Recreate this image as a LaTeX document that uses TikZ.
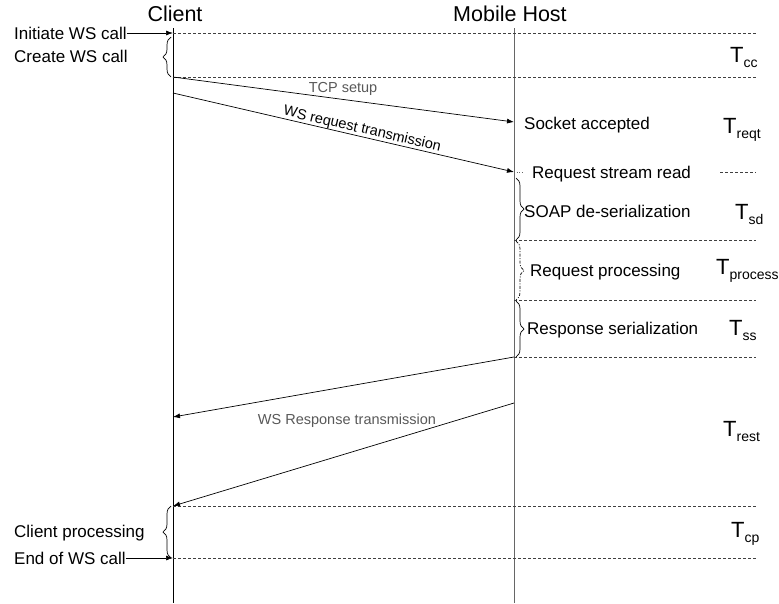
\documentclass[tikz,border=0pt]{standalone}
\usepackage{fontspec}
\setmainfont{Liberation Sans}
\usetikzlibrary{arrows.meta,decorations.pathreplacing}
\begin{document}
\begin{tikzpicture}[x=1pt,y=-1pt,
 lbl/.style={anchor=west,inner sep=0pt,text height=12.2pt,text depth=0pt,font=\fontsize{17}{17}\selectfont},
 ttl/.style={inner sep=0pt,text height=15.4pt,text depth=0pt,font=\fontsize{21.5}{21.5}\selectfont},
 glbl/.style={inner sep=0pt,text=black!65,text height=10.4pt,text depth=0pt,font=\fontsize{14.5}{14.5}\selectfont},
 tlbl/.style={anchor=base west,inner sep=0pt},
 life/.style={line width=0.8pt},
 msg/.style={line width=0.7pt,-{Latex[length=7pt,width=5pt]}},
 sep/.style={line width=0.7pt,black!75,dash pattern=on 3pt off 2pt},
 brc/.style={line width=0.7pt,decorate,decoration={brace,amplitude=8pt}},
]
\newcommand{\Tsub}[1]{{\fontsize{22}{22}\selectfont T}\raisebox{-5pt}{\fontsize{14}{14}\selectfont #1}}
\useasboundingbox[fill=white] (0,0) rectangle (779,603);

% lifelines
\coordinate (ctop) at (173,28);
\coordinate (cbot) at (173,603);
\coordinate (htop) at (514,28);
\coordinate (hbot) at (514,603);
\draw[life] (ctop) -- (cbot);
\draw[life,black!60] (htop) -- (hbot);

\node[ttl] (client) at (175,14) {Client};
\node[ttl] (host) at (510,14) {Mobile Host};

% points
\coordinate (c33) at (173,33);
\coordinate (c77) at (173,77);
\coordinate (c93) at (173,93);
\coordinate (c417) at (173,417);
\coordinate (c506) at (173,506);
\coordinate (c558) at (173,558);
\coordinate (h122) at (514,122);
\coordinate (h172) at (514,172);
\coordinate (h240) at (514,240);
\coordinate (h300) at (514,300);
\coordinate (h357) at (514,357);
\coordinate (h403) at (514,403);
\coordinate (e33) at (756,33);
\coordinate (e77) at (756,77);
\coordinate (s172) at (720,172);
\coordinate (e172) at (756,172);
\coordinate (e240) at (756,240);
\coordinate (e300) at (756,300);
\coordinate (e357) at (756,357);
\coordinate (e506) at (756,506);
\coordinate (e558) at (756,558);
\coordinate (stub) at (524,172);

% separators
\draw[sep] (c33) -- (e33);
\draw[sep] (c77) -- (e77);
\draw[sep] (s172) -- (e172);
\draw[sep] (h240) -- (e240);
\draw[sep] (h300) -- (e300);
\draw[sep] (h357) -- (e357);
\draw[sep] (c506) -- (e506);
\draw[sep] (c558) -- (e558);
\draw[black!60,line width=0.6pt,dotted] (h172) -- (stub);

% client labels
\node[lbl] (init) at (14,33) {Initiate WS call};
\node[lbl] (create) at (14,56) {Create WS call};
\node[lbl] (cproc) at (14,531) {Client processing};
\node[lbl] (endws) at (14,558) {End of WS call};
\draw[msg] (init.east) -- (c33);
\draw[msg] (endws.east) -- (c558);
\draw[brc] (171,77) -- (171,37);
\draw[brc] (171,558) -- (171,506);

% messages
\draw[msg] (c77) -- (h122);
\draw[msg] (c93) -- node[sloped,above=0pt,pos=0.55,inner sep=0pt,font=\fontsize{14.5}{14.5}\selectfont] (wsreq) {WS request transmission} (h172);
\node[glbl] (tcp) at (343,87) {TCP setup};
\draw[msg] (h357) -- (c417);
\draw[msg] (h403) -- (c506);
\node[glbl] (wsresp) at (347,419) {WS Response transmission};

% host labels
\node[lbl] (sock) at (524,123) {Socket accepted};
\node[lbl] (rsr) at (532,172) {Request stream read};
\draw[brc] (516,178) -- (516,240);
\node[lbl] (soap) at (524,211) {SOAP de-serialization};
\draw[brc,dash pattern=on 3pt off 1.5pt on 1pt off 1.5pt] (516,241) -- (516,300);
\node[lbl] (rproc) at (530,270) {Request processing};
\draw[brc] (516,301) -- (516,357);
\node[lbl] (rser) at (527,328) {Response serialization};

% time labels
\node[tlbl] (tcc) at (730,62) {\Tsub{cc}};
\node[tlbl] (treqt) at (723,133) {\Tsub{reqt}};
\node[tlbl] (tsd) at (735,219) {\Tsub{sd}};
\node[tlbl] (tprocess) at (716,274) {\Tsub{process}};
\node[tlbl] (tss) at (729,335) {\Tsub{ss}};
\node[tlbl] (trest) at (723,436) {\Tsub{rest}};
\node[tlbl] (tcpl) at (731,537) {\Tsub{cp}};
\end{tikzpicture}
\end{document}
